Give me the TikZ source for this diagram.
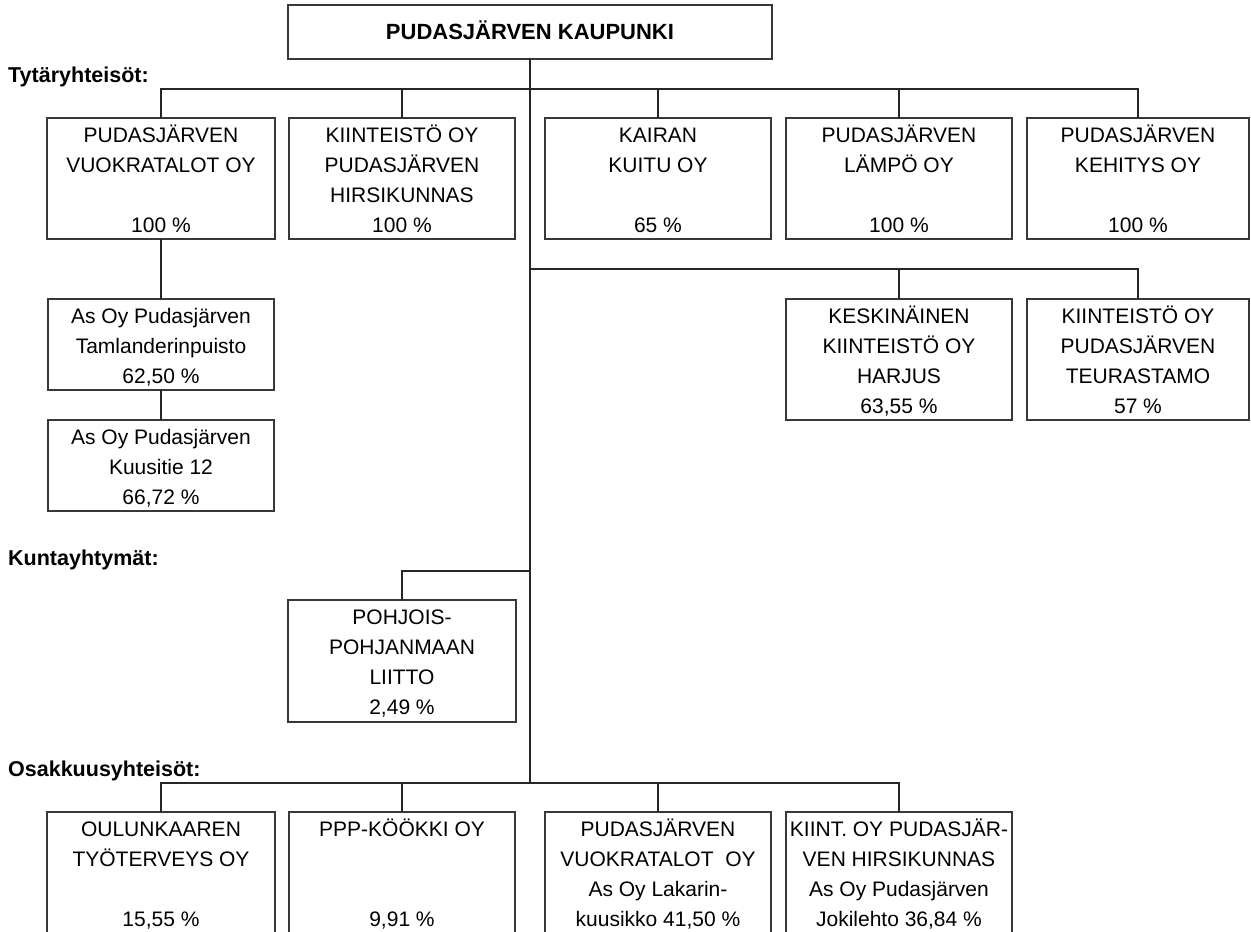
\documentclass[tikz,border=0pt]{standalone}
\usepackage{fontspec}
\setmainfont{Liberation Sans}
\newcommand{\bxt}[3]{\parbox[c][#2][t]{#1}{\centering\fontsize{21}{30}\selectfont\rule{0pt}{24.5pt}#3\par}}
\newcommand{\ttl}[3]{\parbox[c][#2][t]{#1}{\centering\fontsize{22}{30}\selectfont\bfseries\rule{0pt}{34.5pt}#3\par}}
\tikzset{
  box/.style={draw=black!78, line width=2pt, inner sep=0pt, outer sep=0pt, anchor=north west},
  conn/.style={draw=black!85, line width=2pt},
  sect/.style={inner sep=0pt, anchor=base west, font=\fontsize{21.5}{26}\selectfont\bfseries}
}
\begin{document}
\begin{tikzpicture}[x=1pt,y=-1pt]
\clip (0,0) rectangle (1251,932);
\fill[white] (0,0) rectangle (1251,932);

% top
\node[box] (top) at (288,5) {\ttl{484pt}{54pt}{PUDASJÄRVEN KAUPUNKI}};

% section labels
\node[sect] (s1) at (8,82.5) {Tytäryhteisöt:};
\node[sect] (s2) at (8,565) {Kuntayhtymät:};
\node[sect] (s3) at (8,776) {Osakkuusyhteisöt:};

% row 1
\node[box] (r1) at (47,118) {\bxt{228pt}{121pt}{PUDASJÄRVEN\\VUOKRATALOT OY\\\mbox{}\\100 \%}};
\node[box] (r2) at (289,118) {\bxt{226pt}{121pt}{KIINTEISTÖ OY\\PUDASJÄRVEN\\HIRSIKUNNAS\\100 \%}};
\node[box] (r3) at (545,118) {\bxt{226pt}{121pt}{KAIRAN\\KUITU OY\\\mbox{}\\65 \%}};
\node[box] (r4) at (786,118) {\bxt{226pt}{121pt}{PUDASJÄRVEN\\LÄMPÖ OY\\\mbox{}\\100 \%}};
\node[box] (r5) at (1027,118) {\bxt{222pt}{121pt}{PUDASJÄRVEN\\KEHITYS OY\\\mbox{}\\100 \%}};

% sub of r1
\node[box] (a1) at (48,299) {\bxt{226pt}{91pt}{As Oy Pudasjärven\\Tamlanderinpuisto\\62,50 \%}};
\node[box] (a2) at (48,420) {\bxt{226pt}{91pt}{As Oy Pudasjärven\\Kuusitie 12\\66,72 \%}};

% second row right
\node[box] (k1) at (786,299) {\bxt{226pt}{121pt}{KESKINÄINEN\\KIINTEISTÖ OY\\HARJUS\\63,55 \%}};
\node[box] (k2) at (1027,299) {\bxt{222pt}{121pt}{KIINTEISTÖ OY\\PUDASJÄRVEN\\TEURASTAMO\\57 \%}};

% kuntayhtymat
\node[box] (p1) at (288,600) {\bxt{228pt}{122pt}{POHJOIS-\\POHJANMAAN\\LIITTO\\2,49 \%}};

% osakkuus
\node[box] (o1) at (47,812) {\bxt{228pt}{130pt}{OULUNKAAREN\\TYÖTERVEYS OY\\\mbox{}\\15,55 \%}};
\node[box] (o2) at (289,812) {\bxt{226pt}{130pt}{PPP-KÖÖKKI OY\\\mbox{}\\\mbox{}\\9,91 \%}};
\node[box] (o3) at (545,812) {\bxt{226pt}{130pt}{PUDASJÄRVEN\\VUOKRATALOT\ \ OY\\As Oy Lakarin-\\kuusikko 41,50 \%}};
\node[box] (o4) at (786,812) {\bxt{226pt}{130pt}{KIINT. OY PUDASJÄR-\\VEN HIRSIKUNNAS\\As Oy Pudasjärven\\Jokilehto 36,84 \%}};

% bus points
\coordinate (bus1) at (530,89);
\coordinate (bus2) at (530,269);
\coordinate (bus3) at (530,571);
\coordinate (bus4) at (530,783);

\draw[conn] (top.south) -- (bus4);
\foreach \n in {r1,r2,r3,r4,r5} \draw[conn] (\n.north) |- (bus1);
\draw[conn] (r1.south) -- (a1.north);
\draw[conn] (a1.south) -- (a2.north);
\foreach \n in {k1,k2} \draw[conn] (\n.north) |- (bus2);
\draw[conn] (p1.north) |- (bus3);
\foreach \n in {o1,o2,o3,o4} \draw[conn] (\n.north) |- (bus4);
\end{tikzpicture}
\end{document}
